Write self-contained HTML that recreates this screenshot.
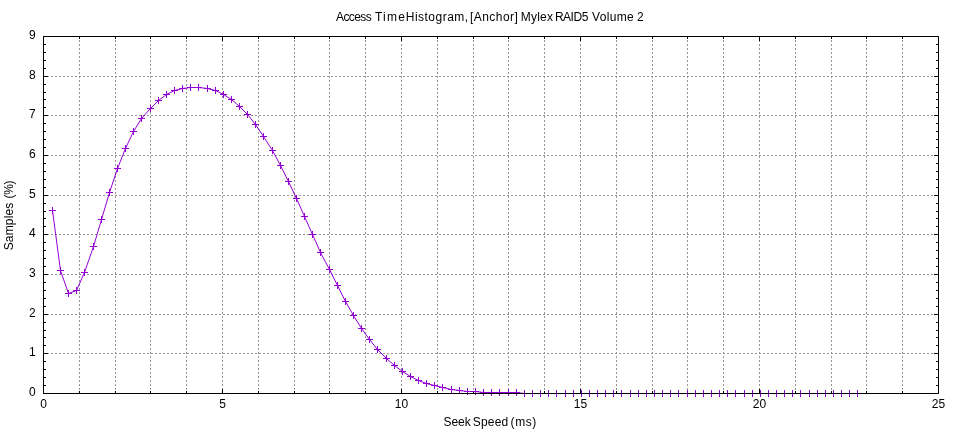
<!DOCTYPE html><html><head><meta charset="utf-8"><title>Access Time Histogram</title>
<style>html,body{margin:0;padding:0;background:#fff;}svg{display:block;will-change:transform;}text{font-family:"Liberation Sans",sans-serif;}</style></head><body>
<svg width="960" height="432" viewBox="0 0 960 432">
<rect width="960" height="432" fill="#fff"/>
<path d="M79.5 36V394 M115.5 36V394 M150.5 36V394 M186.5 36V394 M222.5 36V394 M258.5 36V394 M294.5 36V394 M329.5 36V394 M365.5 36V394 M401.5 36V394 M437.5 36V394 M473.5 36V394 M508.5 36V394 M544.5 36V394 M580.5 36V394 M616.5 36V394 M652.5 36V394 M687.5 36V394 M723.5 36V394 M759.5 36V394 M795.5 36V394 M831.5 36V394 M866.5 36V394 M902.5 36V394 M43 353.5H939 M43 314.5H939 M43 274.5H939 M43 234.5H939 M43 195.5H939 M43 155.5H939 M43 115.5H939 M43 76.5H939" stroke="#959595" stroke-width="1" stroke-dasharray="2 2" fill="none"/>
<path d="M43.5 393.5v-4.5M43.5 36.5v4.5 M79.5 393.5v-2.5M79.5 36.5v2.5 M115.5 393.5v-2.5M115.5 36.5v2.5 M150.5 393.5v-2.5M150.5 36.5v2.5 M186.5 393.5v-2.5M186.5 36.5v2.5 M222.5 393.5v-4.5M222.5 36.5v4.5 M258.5 393.5v-2.5M258.5 36.5v2.5 M294.5 393.5v-2.5M294.5 36.5v2.5 M329.5 393.5v-2.5M329.5 36.5v2.5 M365.5 393.5v-2.5M365.5 36.5v2.5 M401.5 393.5v-4.5M401.5 36.5v4.5 M437.5 393.5v-2.5M437.5 36.5v2.5 M473.5 393.5v-2.5M473.5 36.5v2.5 M508.5 393.5v-2.5M508.5 36.5v2.5 M544.5 393.5v-2.5M544.5 36.5v2.5 M580.5 393.5v-4.5M580.5 36.5v4.5 M616.5 393.5v-2.5M616.5 36.5v2.5 M652.5 393.5v-2.5M652.5 36.5v2.5 M687.5 393.5v-2.5M687.5 36.5v2.5 M723.5 393.5v-2.5M723.5 36.5v2.5 M759.5 393.5v-4.5M759.5 36.5v4.5 M795.5 393.5v-2.5M795.5 36.5v2.5 M831.5 393.5v-2.5M831.5 36.5v2.5 M866.5 393.5v-2.5M866.5 36.5v2.5 M902.5 393.5v-2.5M902.5 36.5v2.5 M938.5 393.5v-4.5M938.5 36.5v4.5 M43.5 393.5h4.5M938.5 393.5h-4.5 M43.5 385.5h2.5M938.5 385.5h-2.5 M43.5 377.5h2.5M938.5 377.5h-2.5 M43.5 369.5h2.5M938.5 369.5h-2.5 M43.5 361.5h2.5M938.5 361.5h-2.5 M43.5 353.5h4.5M938.5 353.5h-4.5 M43.5 345.5h2.5M938.5 345.5h-2.5 M43.5 337.5h2.5M938.5 337.5h-2.5 M43.5 330.5h2.5M938.5 330.5h-2.5 M43.5 322.5h2.5M938.5 322.5h-2.5 M43.5 314.5h4.5M938.5 314.5h-4.5 M43.5 306.5h2.5M938.5 306.5h-2.5 M43.5 298.5h2.5M938.5 298.5h-2.5 M43.5 290.5h2.5M938.5 290.5h-2.5 M43.5 282.5h2.5M938.5 282.5h-2.5 M43.5 274.5h4.5M938.5 274.5h-4.5 M43.5 266.5h2.5M938.5 266.5h-2.5 M43.5 258.5h2.5M938.5 258.5h-2.5 M43.5 250.5h2.5M938.5 250.5h-2.5 M43.5 242.5h2.5M938.5 242.5h-2.5 M43.5 234.5h4.5M938.5 234.5h-4.5 M43.5 226.5h2.5M938.5 226.5h-2.5 M43.5 218.5h2.5M938.5 218.5h-2.5 M43.5 211.5h2.5M938.5 211.5h-2.5 M43.5 203.5h2.5M938.5 203.5h-2.5 M43.5 195.5h4.5M938.5 195.5h-4.5 M43.5 187.5h2.5M938.5 187.5h-2.5 M43.5 179.5h2.5M938.5 179.5h-2.5 M43.5 171.5h2.5M938.5 171.5h-2.5 M43.5 163.5h2.5M938.5 163.5h-2.5 M43.5 155.5h4.5M938.5 155.5h-4.5 M43.5 147.5h2.5M938.5 147.5h-2.5 M43.5 139.5h2.5M938.5 139.5h-2.5 M43.5 131.5h2.5M938.5 131.5h-2.5 M43.5 123.5h2.5M938.5 123.5h-2.5 M43.5 115.5h4.5M938.5 115.5h-4.5 M43.5 107.5h2.5M938.5 107.5h-2.5 M43.5 99.5h2.5M938.5 99.5h-2.5 M43.5 92.5h2.5M938.5 92.5h-2.5 M43.5 84.5h2.5M938.5 84.5h-2.5 M43.5 76.5h4.5M938.5 76.5h-4.5 M43.5 68.5h2.5M938.5 68.5h-2.5 M43.5 60.5h2.5M938.5 60.5h-2.5 M43.5 52.5h2.5M938.5 52.5h-2.5 M43.5 44.5h2.5M938.5 44.5h-2.5 M43.5 36.5h4.5M938.5 36.5h-4.5" stroke="#000" stroke-width="1" fill="none"/>
<polyline points="52.5,210.5 60.5,270.5 68.5,293.5 76.5,290.5 84.5,272.5 93.5,246.5 101.5,219.5 109.5,192.5 117.5,168.5 125.5,148.5 133.5,131.5 141.5,118.5 150.5,108.5 158.5,100.5 166.5,94.5 174.5,90.5 182.5,88.5 190.5,87.5 198.5,87.5 207.5,88.5 215.5,90.5 223.5,94.5 231.5,99.5 239.5,106.5 247.5,114.5 255.5,124.5 263.5,136.5 272.5,150.5 280.5,165.5 288.5,181.5 296.5,198.5 304.5,216.5 312.5,234.5 320.5,252.5 329.5,269.5 337.5,285.5 345.5,301.5 353.5,315.5 361.5,328.5 369.5,339.5 377.5,349.5 386.5,358.5 394.5,365.5 402.5,371.5 410.5,376.5 418.5,380.5 426.5,383.5 434.5,385.5 442.5,387.5 451.5,389.5 459.5,390.5 467.5,391.5 475.5,391.5 483.5,392.5 491.5,392.5 499.5,392.5 508.5,392.5 516.5,392.5 524.5,393.5 532.5,393.5 540.5,393.5 548.5,393.5 556.5,393.5 565.5,393.5 573.5,393.5 581.5,393.5 589.5,393.5 597.5,393.5 605.5,393.5 613.5,393.5 621.5,393.5 630.5,393.5 638.5,393.5 646.5,393.5 654.5,393.5 662.5,393.5 670.5,393.5 678.5,393.5 687.5,393.5 695.5,393.5 703.5,393.5 711.5,393.5 719.5,393.5 727.5,393.5 735.5,393.5 744.5,393.5 752.5,393.5 760.5,393.5 768.5,393.5 776.5,393.5 784.5,393.5 792.5,393.5 800.5,393.5 809.5,393.5 817.5,393.5 825.5,393.5 833.5,393.5 841.5,393.5 849.5,393.5 857.5,393.5" stroke="#9400d3" stroke-width="1" fill="none"/>
<path d="M49 210.5h7M52.5 207v7M57 270.5h7M60.5 267v7M65 293.5h7M68.5 290v7M73 290.5h7M76.5 287v7M81 272.5h7M84.5 269v7M90 246.5h7M93.5 243v7M98 219.5h7M101.5 216v7M106 192.5h7M109.5 189v7M114 168.5h7M117.5 165v7M122 148.5h7M125.5 145v7M130 131.5h7M133.5 128v7M138 118.5h7M141.5 115v7M147 108.5h7M150.5 105v7M155 100.5h7M158.5 97v7M163 94.5h7M166.5 91v7M171 90.5h7M174.5 87v7M179 88.5h7M182.5 85v7M187 87.5h7M190.5 84v7M195 87.5h7M198.5 84v7M204 88.5h7M207.5 85v7M212 90.5h7M215.5 87v7M220 94.5h7M223.5 91v7M228 99.5h7M231.5 96v7M236 106.5h7M239.5 103v7M244 114.5h7M247.5 111v7M252 124.5h7M255.5 121v7M260 136.5h7M263.5 133v7M269 150.5h7M272.5 147v7M277 165.5h7M280.5 162v7M285 181.5h7M288.5 178v7M293 198.5h7M296.5 195v7M301 216.5h7M304.5 213v7M309 234.5h7M312.5 231v7M317 252.5h7M320.5 249v7M326 269.5h7M329.5 266v7M334 285.5h7M337.5 282v7M342 301.5h7M345.5 298v7M350 315.5h7M353.5 312v7M358 328.5h7M361.5 325v7M366 339.5h7M369.5 336v7M374 349.5h7M377.5 346v7M383 358.5h7M386.5 355v7M391 365.5h7M394.5 362v7M399 371.5h7M402.5 368v7M407 376.5h7M410.5 373v7M415 380.5h7M418.5 377v7M423 383.5h7M426.5 380v7M431 385.5h7M434.5 382v7M439 387.5h7M442.5 384v7M448 389.5h7M451.5 386v7M456 390.5h7M459.5 387v7M464 391.5h7M467.5 388v7M472 391.5h7M475.5 388v7M480 392.5h7M483.5 389v7M488 392.5h7M491.5 389v7M496 392.5h7M499.5 389v7M505 392.5h7M508.5 389v7M513 392.5h7M516.5 389v7M521 393.5h7M524.5 390v7M529 393.5h7M532.5 390v7M537 393.5h7M540.5 390v7M545 393.5h7M548.5 390v7M553 393.5h7M556.5 390v7M562 393.5h7M565.5 390v7M570 393.5h7M573.5 390v7M578 393.5h7M581.5 390v7M586 393.5h7M589.5 390v7M594 393.5h7M597.5 390v7M602 393.5h7M605.5 390v7M610 393.5h7M613.5 390v7M618 393.5h7M621.5 390v7M627 393.5h7M630.5 390v7M635 393.5h7M638.5 390v7M643 393.5h7M646.5 390v7M651 393.5h7M654.5 390v7M659 393.5h7M662.5 390v7M667 393.5h7M670.5 390v7M675 393.5h7M678.5 390v7M684 393.5h7M687.5 390v7M692 393.5h7M695.5 390v7M700 393.5h7M703.5 390v7M708 393.5h7M711.5 390v7M716 393.5h7M719.5 390v7M724 393.5h7M727.5 390v7M732 393.5h7M735.5 390v7M741 393.5h7M744.5 390v7M749 393.5h7M752.5 390v7M757 393.5h7M760.5 390v7M765 393.5h7M768.5 390v7M773 393.5h7M776.5 390v7M781 393.5h7M784.5 390v7M789 393.5h7M792.5 390v7M797 393.5h7M800.5 390v7M806 393.5h7M809.5 390v7M814 393.5h7M817.5 390v7M822 393.5h7M825.5 390v7M830 393.5h7M833.5 390v7M838 393.5h7M841.5 390v7M846 393.5h7M849.5 390v7M854 393.5h7M857.5 390v7" stroke="#9400d3" stroke-width="1" fill="none"/>
<path d="M43.5 36.5H938.5V393.5H43.5Z" stroke="#000" stroke-width="1" fill="none"/>
<g font-size="12" fill="#000">
<text x="35.6" y="396" text-anchor="end">0</text>
<text x="35.6" y="356" text-anchor="end">1</text>
<text x="35.6" y="317" text-anchor="end">2</text>
<text x="35.6" y="277" text-anchor="end">3</text>
<text x="35.6" y="237" text-anchor="end">4</text>
<text x="35.6" y="198" text-anchor="end">5</text>
<text x="35.6" y="158" text-anchor="end">6</text>
<text x="35.6" y="118" text-anchor="end">7</text>
<text x="35.6" y="79" text-anchor="end">8</text>
<text x="35.6" y="39" text-anchor="end">9</text>
<text x="43.5" y="408" text-anchor="middle">0</text>
<text x="222.5" y="408" text-anchor="middle">5</text>
<text x="401.5" y="408" text-anchor="middle">10</text>
<text x="580.5" y="408" text-anchor="middle">15</text>
<text x="759.5" y="408" text-anchor="middle">20</text>
<text x="938.5" y="408" text-anchor="middle">25</text>
<text x="336.00" y="21" letter-spacing="-0.580">Access</text>
<text x="375.00" y="21" letter-spacing="1.200">Time</text>
<text x="405.80" y="21" letter-spacing="0.478">Histogram,</text>
<text x="469.90" y="21" letter-spacing="0.471">[Anchor]</text>
<text x="520.75" y="21" letter-spacing="0.213">Mylex</text>
<text x="554.90" y="21" letter-spacing="-0.475">RAID5</text>
<text x="592.10" y="21" letter-spacing="0.330">Volume</text>
<text x="637.10" y="21" letter-spacing="0.000">2</text>
<text x="443.50" y="426" letter-spacing="-0.067">Seek</text>
<text x="472.75" y="426" letter-spacing="0.188">Speed</text>
<text x="510.60" y="426" letter-spacing="0.567">(ms)</text>
<g transform="translate(13,250) rotate(-90)">
<text x="-0.30" y="0" letter-spacing="0.150">Samples</text>
<text x="51.50" y="0" letter-spacing="-0.350">(%)</text>
</g>
</g>
</svg></body></html>
